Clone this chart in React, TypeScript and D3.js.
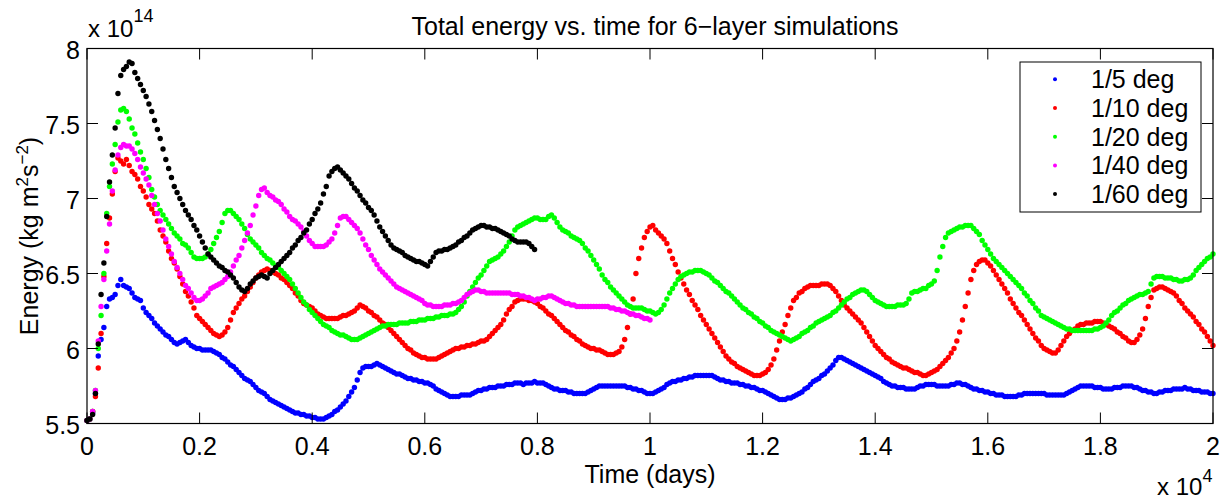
import React from 'react';
import * as d3 from 'd3';

// sampling interval of the energy time series (days)
const TIME_STEP = 50;

const xTickValues = [0, 0.2, 0.4, 0.6, 0.8, 1, 1.2, 1.4, 1.6, 1.8, 2]; // x 10^4 days
const yTickValues = [5.5, 6, 6.5, 7, 7.5, 8]; // x 10^14

const seriesNames = ['1/5 deg', '1/10 deg', '1/20 deg', '1/40 deg', '1/60 deg'];
const seriesColors = ['#0000ff', '#ff0000', '#00ff00', '#ff00ff', '#000000'];

// Energy (x 10^14 kg m^2 s^-2), one value every 50 days
const deg5 = [
  5.52,5.53,5.57,5.70,5.95,6.06,6.14,6.28,6.33,6.34,6.36,6.42,6.46,6.42,6.41,6.40,6.37,6.34,6.33,6.32,
  6.27,6.24,6.22,6.20,6.17,6.15,6.13,6.11,6.09,6.08,6.06,6.04,6.03,6.04,6.05,6.06,6.04,6.02,6.01,6.00,
  6.00,5.99,5.99,5.99,5.99,5.98,5.97,5.96,5.94,5.93,5.91,5.89,5.88,5.86,5.84,5.82,5.80,5.79,5.78,5.76,
  5.74,5.72,5.71,5.70,5.68,5.66,5.65,5.64,5.63,5.62,5.61,5.60,5.59,5.58,5.57,5.57,5.56,5.56,5.55,5.55,
  5.54,5.54,5.53,5.53,5.53,5.54,5.55,5.56,5.58,5.59,5.61,5.63,5.65,5.68,5.71,5.74,5.79,5.84,5.87,5.88,
  5.88,5.88,5.89,5.90,5.89,5.88,5.87,5.86,5.85,5.84,5.83,5.83,5.82,5.81,5.80,5.80,5.79,5.79,5.78,5.78,
  5.77,5.77,5.76,5.75,5.73,5.72,5.71,5.70,5.69,5.68,5.68,5.68,5.68,5.69,5.69,5.69,5.69,5.70,5.71,5.72,
  5.72,5.73,5.73,5.74,5.74,5.74,5.75,5.75,5.75,5.76,5.76,5.76,5.77,5.77,5.77,5.76,5.77,5.77,5.77,5.78,
  5.77,5.77,5.77,5.76,5.75,5.74,5.73,5.73,5.72,5.72,5.72,5.71,5.71,5.70,5.70,5.70,5.70,5.70,5.71,5.72,
  5.73,5.74,5.75,5.75,5.75,5.75,5.75,5.75,5.75,5.75,5.75,5.75,5.74,5.74,5.73,5.73,5.72,5.72,5.71,5.70,
  5.70,5.70,5.71,5.72,5.73,5.74,5.76,5.77,5.78,5.78,5.79,5.79,5.80,5.80,5.81,5.81,5.82,5.82,5.82,5.82,
  5.82,5.82,5.82,5.81,5.80,5.79,5.79,5.78,5.78,5.77,5.77,5.77,5.76,5.76,5.75,5.75,5.74,5.74,5.73,5.72,
  5.72,5.71,5.70,5.69,5.68,5.67,5.66,5.66,5.66,5.67,5.67,5.68,5.69,5.70,5.71,5.73,5.74,5.76,5.78,5.79,
  5.80,5.82,5.83,5.85,5.87,5.89,5.92,5.94,5.94,5.93,5.92,5.91,5.90,5.89,5.88,5.87,5.86,5.85,5.84,5.83,
  5.82,5.81,5.80,5.78,5.77,5.76,5.75,5.75,5.74,5.74,5.74,5.73,5.73,5.73,5.73,5.74,5.75,5.75,5.76,5.76,
  5.76,5.76,5.75,5.75,5.75,5.75,5.75,5.76,5.76,5.77,5.77,5.76,5.76,5.75,5.74,5.73,5.73,5.72,5.72,5.71,
  5.71,5.70,5.70,5.69,5.69,5.69,5.68,5.68,5.68,5.68,5.68,5.69,5.69,5.70,5.70,5.70,5.70,5.70,5.70,5.70,
  5.70,5.69,5.69,5.69,5.69,5.69,5.69,5.69,5.70,5.71,5.72,5.73,5.74,5.75,5.75,5.75,5.75,5.75,5.74,5.74,
  5.74,5.73,5.73,5.73,5.73,5.74,5.74,5.74,5.75,5.75,5.75,5.75,5.74,5.74,5.73,5.72,5.72,5.71,5.71,5.70,
  5.70,5.71,5.71,5.72,5.72,5.72,5.73,5.73,5.73,5.73,5.74,5.73,5.73,5.72,5.72,5.72,5.71,5.71,5.71,5.70,
  5.70,
];

const deg10 = [
  5.52,5.53,5.58,5.68,5.87,6.10,6.48,6.70,6.87,7.03,7.18,7.27,7.25,7.23,7.26,7.22,7.18,7.16,7.13,7.08,
  7.05,7.01,6.96,6.93,6.90,6.85,6.79,6.75,6.71,6.65,6.60,6.57,6.53,6.48,6.43,6.38,6.35,6.31,6.27,6.22,
  6.20,6.18,6.16,6.14,6.12,6.10,6.09,6.08,6.09,6.11,6.14,6.19,6.24,6.27,6.30,6.33,6.35,6.38,6.41,6.44,
  6.47,6.49,6.51,6.52,6.53,6.52,6.51,6.50,6.49,6.47,6.46,6.44,6.42,6.40,6.37,6.35,6.32,6.30,6.29,6.28,
  6.27,6.25,6.23,6.22,6.21,6.20,6.20,6.20,6.20,6.20,6.21,6.22,6.22,6.23,6.24,6.25,6.27,6.29,6.28,6.27,
  6.25,6.24,6.22,6.21,6.19,6.17,6.16,6.14,6.12,6.10,6.08,6.06,6.04,6.02,6.00,5.99,5.97,5.96,5.95,5.94,
  5.94,5.93,5.93,5.93,5.93,5.94,5.95,5.96,5.97,5.98,5.99,6.00,6.00,6.01,6.01,6.02,6.02,6.03,6.03,6.04,
  6.05,6.05,6.06,6.08,6.10,6.12,6.14,6.16,6.19,6.23,6.26,6.28,6.31,6.32,6.33,6.33,6.33,6.32,6.32,6.31,
  6.30,6.28,6.27,6.25,6.23,6.22,6.20,6.18,6.16,6.14,6.12,6.11,6.09,6.08,6.06,6.05,6.03,6.02,6.01,6.00,
  6.00,5.99,5.99,5.98,5.97,5.96,5.96,5.96,5.97,5.98,6.01,6.06,6.14,6.23,6.33,6.50,6.60,6.67,6.74,6.78,
  6.81,6.82,6.79,6.77,6.75,6.73,6.70,6.65,6.60,6.56,6.51,6.47,6.43,6.39,6.36,6.32,6.29,6.26,6.22,6.19,
  6.16,6.13,6.10,6.07,6.04,6.01,5.98,5.95,5.93,5.91,5.90,5.88,5.87,5.86,5.85,5.84,5.83,5.82,5.82,5.82,
  5.83,5.84,5.86,5.89,5.93,5.99,6.05,6.11,6.16,6.22,6.27,6.32,6.34,6.37,6.38,6.40,6.41,6.42,6.42,6.42,
  6.42,6.43,6.43,6.43,6.42,6.40,6.38,6.35,6.32,6.29,6.27,6.25,6.23,6.21,6.19,6.17,6.14,6.11,6.08,6.05,
  6.02,6.00,5.98,5.96,5.94,5.93,5.91,5.90,5.89,5.88,5.87,5.87,5.86,5.85,5.84,5.84,5.83,5.82,5.82,5.83,
  5.84,5.85,5.86,5.88,5.90,5.92,5.94,5.97,6.00,6.05,6.11,6.19,6.28,6.37,6.46,6.52,6.56,6.58,6.59,6.59,
  6.57,6.55,6.52,6.49,6.46,6.43,6.40,6.37,6.33,6.30,6.27,6.24,6.22,6.19,6.16,6.13,6.10,6.07,6.05,6.02,
  6.00,5.99,5.98,5.97,5.97,5.99,6.02,6.05,6.08,6.10,6.12,6.13,6.15,6.16,6.16,6.17,6.17,6.17,6.18,6.18,
  6.18,6.17,6.16,6.15,6.14,6.13,6.11,6.10,6.08,6.07,6.05,6.04,6.04,6.06,6.09,6.13,6.20,6.28,6.34,6.39,
  6.40,6.41,6.41,6.40,6.39,6.38,6.37,6.35,6.32,6.30,6.27,6.25,6.23,6.21,6.18,6.16,6.13,6.11,6.08,6.05,
  6.02,
];

const deg20 = [
  5.52,5.53,5.58,5.72,6.00,6.22,6.50,6.90,7.08,7.23,7.36,7.51,7.59,7.60,7.58,7.53,7.47,7.43,7.37,7.31,
  7.26,7.20,7.14,7.06,7.01,6.96,6.92,6.89,6.86,6.83,6.80,6.77,6.75,6.73,6.70,6.69,6.67,6.64,6.61,6.60,
  6.60,6.60,6.61,6.63,6.66,6.70,6.74,6.78,6.84,6.90,6.92,6.92,6.90,6.88,6.86,6.83,6.80,6.76,6.73,6.71,
  6.69,6.67,6.64,6.62,6.60,6.59,6.57,6.55,6.54,6.52,6.50,6.48,6.46,6.43,6.40,6.37,6.34,6.31,6.29,6.26,
  6.24,6.22,6.20,6.18,6.16,6.15,6.14,6.12,6.11,6.10,6.09,6.09,6.08,6.07,6.06,6.06,6.06,6.07,6.08,6.09,
  6.10,6.11,6.12,6.13,6.14,6.15,6.15,6.16,6.16,6.16,6.16,6.17,6.17,6.17,6.17,6.18,6.18,6.18,6.19,6.19,
  6.19,6.20,6.20,6.20,6.21,6.21,6.22,6.22,6.22,6.23,6.23,6.24,6.26,6.28,6.31,6.35,6.38,6.41,6.44,6.47,
  6.49,6.52,6.55,6.58,6.59,6.60,6.61,6.63,6.65,6.68,6.71,6.75,6.79,6.81,6.82,6.83,6.84,6.85,6.86,6.87,
  6.87,6.86,6.86,6.86,6.88,6.89,6.87,6.84,6.81,6.79,6.78,6.77,6.75,6.74,6.73,6.72,6.70,6.67,6.65,6.62,
  6.59,6.56,6.53,6.49,6.46,6.44,6.41,6.39,6.37,6.35,6.33,6.31,6.29,6.28,6.27,6.27,6.27,6.27,6.26,6.25,
  6.25,6.24,6.23,6.24,6.26,6.29,6.33,6.37,6.40,6.43,6.46,6.48,6.49,6.50,6.51,6.51,6.52,6.52,6.52,6.51,
  6.50,6.49,6.47,6.45,6.44,6.42,6.40,6.38,6.37,6.35,6.33,6.31,6.29,6.27,6.26,6.24,6.23,6.21,6.20,6.18,
  6.17,6.15,6.14,6.12,6.11,6.10,6.09,6.08,6.07,6.06,6.05,6.06,6.07,6.08,6.10,6.11,6.12,6.14,6.15,6.17,
  6.18,6.19,6.20,6.21,6.22,6.24,6.25,6.27,6.29,6.31,6.33,6.34,6.36,6.37,6.38,6.39,6.39,6.38,6.36,6.34,
  6.32,6.31,6.30,6.29,6.28,6.28,6.28,6.28,6.29,6.29,6.29,6.30,6.33,6.37,6.38,6.38,6.39,6.40,6.40,6.42,
  6.43,6.45,6.52,6.61,6.68,6.74,6.77,6.78,6.79,6.80,6.81,6.81,6.82,6.82,6.82,6.80,6.78,6.76,6.72,6.69,
  6.66,6.63,6.60,6.58,6.56,6.54,6.52,6.50,6.48,6.46,6.44,6.42,6.40,6.37,6.35,6.32,6.30,6.27,6.25,6.22,
  6.21,6.20,6.19,6.18,6.17,6.16,6.15,6.14,6.13,6.13,6.12,6.12,6.12,6.12,6.12,6.12,6.12,6.12,6.13,6.13,
  6.14,6.15,6.17,6.19,6.22,6.24,6.25,6.27,6.29,6.30,6.32,6.33,6.34,6.35,6.36,6.36,6.37,6.38,6.43,6.47,
  6.48,6.48,6.48,6.47,6.47,6.47,6.46,6.46,6.45,6.45,6.46,6.46,6.47,6.49,6.52,6.54,6.56,6.58,6.60,6.61,
  6.63,
];

const deg40 = [
  5.52,5.53,5.58,5.72,6.05,6.28,6.46,6.65,6.83,7.05,7.19,7.29,7.34,7.36,7.35,7.35,7.33,7.30,7.26,7.21,
  7.17,7.13,7.09,7.02,6.96,6.90,6.85,6.79,6.73,6.68,6.63,6.58,6.54,6.50,6.46,6.42,6.40,6.37,6.34,6.32,
  6.32,6.33,6.35,6.37,6.40,6.41,6.42,6.43,6.44,6.46,6.48,6.51,6.55,6.59,6.62,6.67,6.72,6.77,6.82,6.89,
  6.95,7.02,7.06,7.07,7.04,7.02,7.01,6.99,6.98,6.96,6.93,6.91,6.88,6.86,6.85,6.83,6.81,6.78,6.75,6.72,
  6.70,6.68,6.68,6.68,6.68,6.69,6.71,6.73,6.77,6.82,6.87,6.88,6.88,6.86,6.84,6.82,6.80,6.77,6.73,6.69,
  6.66,6.62,6.59,6.56,6.53,6.51,6.49,6.47,6.45,6.43,6.41,6.40,6.39,6.38,6.37,6.36,6.35,6.34,6.33,6.32,
  6.30,6.29,6.29,6.28,6.28,6.28,6.28,6.29,6.29,6.29,6.30,6.30,6.31,6.32,6.34,6.36,6.37,6.38,6.39,6.39,
  6.38,6.38,6.37,6.37,6.37,6.37,6.37,6.37,6.37,6.37,6.37,6.36,6.36,6.36,6.35,6.35,6.34,6.34,6.33,6.32,
  6.33,6.33,6.34,6.34,6.35,6.35,6.34,6.33,6.32,6.31,6.30,6.30,6.29,6.29,6.28,6.28,6.28,6.28,6.28,6.28,
  6.28,6.28,6.28,6.28,6.28,6.28,6.27,6.27,6.26,6.26,6.25,6.25,6.24,6.23,6.23,6.22,6.22,6.21,6.20,6.20,
  6.19,
];

const deg60 = [
  5.52,5.53,5.56,5.70,6.03,6.36,6.57,6.88,7.11,7.29,7.47,7.70,7.82,7.86,7.88,7.91,7.90,7.84,7.80,7.76,
  7.72,7.68,7.63,7.58,7.52,7.46,7.40,7.33,7.26,7.20,7.14,7.08,7.04,7.00,6.96,6.92,6.89,6.86,6.82,6.79,
  6.75,6.71,6.67,6.63,6.61,6.59,6.57,6.55,6.54,6.52,6.51,6.49,6.47,6.44,6.41,6.39,6.38,6.40,6.43,6.45,
  6.47,6.48,6.49,6.48,6.47,6.50,6.52,6.54,6.56,6.58,6.60,6.62,6.64,6.67,6.69,6.72,6.74,6.77,6.79,6.83,
  6.86,6.90,6.93,6.97,7.03,7.08,7.15,7.18,7.20,7.21,7.19,7.17,7.15,7.13,7.10,7.07,7.05,7.02,6.99,6.97,
  6.94,6.92,6.89,6.85,6.81,6.78,6.75,6.72,6.69,6.67,6.66,6.65,6.64,6.62,6.61,6.60,6.59,6.58,6.58,6.57,
  6.56,6.55,6.58,6.61,6.64,6.65,6.65,6.66,6.66,6.67,6.68,6.69,6.71,6.72,6.74,6.75,6.77,6.79,6.80,6.81,
  6.82,6.82,6.81,6.81,6.80,6.80,6.79,6.78,6.77,6.76,6.75,6.73,6.72,6.71,6.71,6.71,6.71,6.70,6.68,6.66,
];

const seriesValues = [deg5, deg10, deg20, deg40, deg60];

const W = 1228;
const H = 501;
const FONT = '"Liberation Sans", Arial, Helvetica, sans-serif';

export default function App() {
  const x = d3.scaleLinear().domain([0, 20000]).range([87, 1213]);
  const y = d3.scaleLinear().domain([5.5, 8]).range([423.5, 48.5]);
  const [x0, x1] = x.range();
  const [yb, yt] = y.range();
  const tickLen = 11;

  const legendX = 1020;
  const legendY = 62;
  const legendW = 181;
  const legendH = 150;
  const rowH = 28.7;

  return (
    <svg
      width={W}
      height={H}
      viewBox={`0 0 ${W} ${H}`}
      style={{ position: 'absolute', left: 0, top: 0, background: '#fff' }}
      fontFamily={FONT}
    >
      <rect x={0} y={0} width={W} height={H} fill="#fff" />

      {/* data */}
      <g>
        {seriesValues.map((vals, si) => (
          <g key={si} fill={seriesColors[si]}>
            {vals.map((v, i) => (
              <circle key={i} cx={x(i * TIME_STEP)} cy={y(v)} r={2.7} />
            ))}
          </g>
        ))}
      </g>

      {/* axes box */}
      <rect x={x0} y={yt} width={x1 - x0} height={yb - yt} fill="none" stroke="#000" strokeWidth={1.2} />

      {/* x ticks */}
      {xTickValues.map((v) => {
        const px = x(v * 10000);
        return (
          <g key={'xt' + v}>
            <line x1={px} x2={px} y1={yb} y2={yb - tickLen} stroke="#000" strokeWidth={1} />
            <line x1={px} x2={px} y1={yt} y2={yt + tickLen} stroke="#000" strokeWidth={1} />
            <text x={px} y={455} fontSize={25} textAnchor="middle" fill="#000">
              {String(+v.toFixed(1))}
            </text>
          </g>
        );
      })}

      {/* y ticks */}
      {yTickValues.map((v) => {
        const py = y(v);
        return (
          <g key={'yt' + v}>
            <line x1={x0} x2={x0 + tickLen} y1={py} y2={py} stroke="#000" strokeWidth={1} />
            <line x1={x1} x2={x1 - tickLen} y1={py} y2={py} stroke="#000" strokeWidth={1} />
            <text x={80} y={py + 10} fontSize={25} textAnchor="end" fill="#000">
              {String(v)}
            </text>
          </g>
        );
      })}

      {/* exponent labels */}
      <text x={88} y={37} fontSize={24} fill="#000">
        x 10
        <tspan dy={-15} fontSize={18}>14</tspan>
      </text>
      <text x={1157} y={495} fontSize={24} fill="#000">
        x 10
        <tspan dy={-13} fontSize={18}>4</tspan>
      </text>

      {/* title */}
      <text x={655} y={35} fontSize={25} textAnchor="middle" fill="#000">
        Total energy vs. time for 6−layer simulations
      </text>

      {/* x label */}
      <text x={650} y={483} fontSize={25} textAnchor="middle" fill="#000">
        Time (days)
      </text>

      {/* y label */}
      <text
        transform={`translate(38, ${(yb + yt) / 2}) rotate(-90)`}
        fontSize={25}
        textAnchor="middle"
        fill="#000"
      >
        Energy (kg m
        <tspan dy={-10} fontSize={17}>2</tspan>
        <tspan dy={10}>s</tspan>
        <tspan dy={-10} fontSize={17}>−2</tspan>
        <tspan dy={10}>)</tspan>
      </text>

      {/* legend */}
      <g>
        <rect x={legendX} y={legendY} width={legendW} height={legendH} fill="#fff" stroke="#000" strokeWidth={1} />
        {seriesNames.map((name, i) => {
          const cy = 79.3 + i * rowH;
          return (
            <g key={name}>
              <circle cx={1055} cy={cy} r={2} fill={seriesColors[i]} />
              <text x={1091} y={cy + 9} fontSize={25} fill="#000">
                {name}
              </text>
            </g>
          );
        })}
      </g>
    </svg>
  );
}
